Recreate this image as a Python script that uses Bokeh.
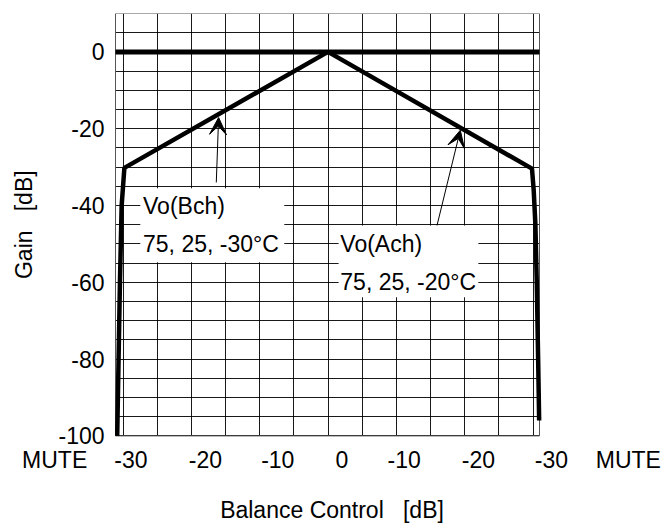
import math
from bokeh.plotting import figure
from bokeh.models import Range1d, FixedTicker, Label, Arrow, VeeHead, BoxAnnotation
from bokeh.core.properties import value
from bokeh.embed import file_html
from bokeh.resources import INLINE

# ---- data ----
# balance position: left half = attenuating Bch, right half = attenuating Ach
bch_x = [0.0, -29.8, -30.2, -30.45, -30.65, -30.85]
bch_y = [0.0, -30.2, -40.0, -60.0, -80.0, -100.0]
ach_x = [0.0, 29.85, 30.1, 30.35, 30.55, 30.75, 30.9]
ach_y = [0.0, -30.4, -36.0, -45.0, -60.0, -80.0, -96.0]
flat_x = [-31.1, 30.95]
flat_y = [0.0, 0.0]

x_tick_pos = [-40.0, -28.85, -17.95, -7.35, 2.05, 11.15, 22.0, 32.7, 43.95]
x_tick_text = ["MUTE", "-30", "-20", "-10", "0", "-10", "-20", "-30", "MUTE"]
y_ticks = [0, -20, -40, -60, -80, -100]
y_tick_text = ["0", "-20", "-40", "-60", "-80", "-100"]
grid_x = [-30, -25, -20, -15, -10, -5, 0, 5, 10, 15, 20, 25, 30]
grid_y = [-100, -95, -90, -85, -80, -75, -70, -65, -60, -55, -50, -45,
          -40, -35, -30, -25, -20, -15, -10, -5, 0, 5, 10]

notes_text = [["Vo(Bch)", "75, 25, -30\u00b0C"], ["Vo(Ach)", "75, 25, -20\u00b0C"]]

FONT = "Liberation Sans"
FS = "23px"
NB = "\u00a0"

W, H = 663, 525
X0, X1 = -31.1, 30.95          # extent of the chart box (data units)
Y0, Y1 = -100.0, 10.0
BL, BR = 115, 124               # pixels left / right of the chart box
scale = (X1 - X0) / (W - BL - BR)
XL, XR = X0 - BL * scale, X1 + BR * scale

# The frame spans the full width so that the irregular x tick labels
# (MUTE ... MUTE) can be drawn by the x axis; the chart box sits inside it.
p = figure(width=W, height=H,
           x_range=Range1d(XL, XR), y_range=Range1d(-102.5, Y1),
           output_backend="svg", toolbar_location=None, title=None,
           y_axis_location=None,
           min_border_left=0, min_border_right=0,
           min_border_top=13, min_border_bottom=80)
p.background_fill_color = "white"
p.border_fill_color = "white"
p.outline_line_color = None

# grids restricted to the chart box
p.xgrid.ticker = FixedTicker(ticks=grid_x)
p.xgrid.cross_bounds = (Y0, Y1)
p.ygrid.ticker = FixedTicker(ticks=grid_y)
p.ygrid.cross_bounds = (X0, X1)
for g in (p.xgrid, p.ygrid):
    g.grid_line_color = "black"
    g.grid_line_alpha = 0.9
    g.grid_line_width = 1

# chart box
p.quad(left=[X0], right=[X1], bottom=[Y0], top=[Y1],
       fill_color=None, line_color="#555555", line_width=1)

# y tick labels and title, placed to the left of the chart box
p.text(x=[X0 - 11 * scale] * len(y_ticks), y=y_ticks, text=y_tick_text,
       text_align="right", text_baseline="middle",
       text_font=value(FONT), text_font_size=value(FS), text_color="black")
p.text(x=[XL + 23 * scale], y=[(Y0 + Y1) / 2], text=["Gain" + NB * 3 + "[dB]"],
       angle=math.pi / 2, text_align="center", text_baseline="middle",
       text_font=value(FONT), text_font_size=value(FS), text_color="black")

# x axis
xa = p.xaxis[0]
xa.ticker = FixedTicker(ticks=x_tick_pos)
xa.major_label_overrides = dict(zip(x_tick_pos, x_tick_text))
xa.axis_line_color = None
xa.major_tick_line_color = None
xa.minor_tick_line_color = None
xa.major_tick_out = 0
xa.major_tick_in = 0
xa.minor_tick_out = 0
xa.minor_tick_in = 0
xa.major_label_standoff = 1
xa.major_label_text_font = FONT
xa.major_label_text_font_size = FS
xa.major_label_text_color = "black"
xa.axis_label = "Balance Control" + NB * 3 + "[dB]"
xa.axis_label_text_font = FONT
xa.axis_label_text_font_size = FS
xa.axis_label_text_font_style = "normal"
xa.axis_label_text_color = "black"
xa.axis_label_standoff = 21

# curves
p.line(flat_x, flat_y, line_width=5, line_color="black")
p.line(bch_x, bch_y, line_width=4.5, line_color="black")
p.line(ach_x, ach_y, line_width=4.5, line_color="black")

# annotation boxes and texts
boxes = [(-27.47, -6.4, -35.5, -54.8), (1.55, 22.0, -45.2, -63.9)]
text_anchor = [(-27.07, -40.0, -50.0), (1.8, -50.0, -60.0)]
for (l, r, t, b), (tx, y1, y2), lines in zip(boxes, text_anchor, notes_text):
    p.add_layout(BoxAnnotation(left=l, right=r, top=t, bottom=b,
                               fill_color="white", fill_alpha=1.0,
                               line_color=None))
    for yy, s in zip((y1, y2), lines):
        p.add_layout(Label(x=tx, y=yy, text=s, text_align="left",
                           text_baseline="middle", text_font=FONT,
                           text_font_size=FS, text_color="black"))

arrows = [(-16.35, -34.0, -16.01, -17.1), (15.95, -45.2, 19.36, -20.4)]
for xs, ys, xe, ye in arrows:
    p.add_layout(Arrow(end=VeeHead(size=17, fill_color="black",
                                   line_color="black", line_width=1),
                       x_start=xs, y_start=ys, x_end=xe, y_end=ye,
                       line_width=1, line_color="black"))

open("out.html", "w").write(file_html(p, INLINE))
